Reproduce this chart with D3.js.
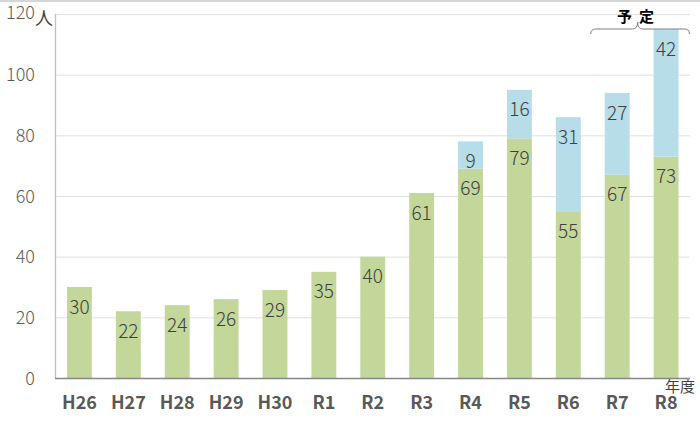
<!DOCTYPE html>
<html><head><meta charset="utf-8">
<script src="https://cdn.jsdelivr.net/npm/d3@7"></script>
<style>body{margin:0;background:#fff}svg{display:block}</style>
</head><body><svg id="c" width="700" height="429"></svg>
<script>
const categories = ["H26","H27","H28","H29","H30","R1","R2","R3","R4","R5","R6","R7","R8"];
const greenValues = [30,22,24,26,29,35,40,61,69,79,55,67,73];
const blueValues  = [0,0,0,0,0,0,0,0,9,16,31,27,42];
const yTicks = [0,20,40,60,80,100,120];

const svg = d3.select("#c");
const W = 700, H = 429;
const font = "'Noto Sans CJK JP','Noto Sans',sans-serif";
const x = d3.scaleBand().domain(categories).range([55, 690.5]).paddingInner(0.49).paddingOuter(0.245);
const y = d3.scaleLinear().domain([0,120]).range([378, 14]);

// top border
svg.append("line").attr("x1",0).attr("x2",W).attr("y1",1).attr("y2",1).attr("stroke","#c8c8c8").attr("stroke-width",1.5);

// gridlines
svg.append("g").selectAll("line").data(yTicks.filter(d=>d>0)).join("line")
  .attr("x1",55).attr("x2",690).attr("y1",d=>y(d)+0.5).attr("y2",d=>y(d)+0.5)
  .attr("stroke","#e0e0e0").attr("stroke-width",1);

// y axis tick labels
const yAxis = d3.axisLeft(y).tickValues(yTicks).tickSize(0).tickPadding(10);
const gy = svg.append("g").attr("transform","translate(45,0)").call(yAxis);
gy.select(".domain").remove();
gy.selectAll("text").attr("font-family",font).attr("font-size",18).attr("font-weight",300).attr("fill","#595959").attr("x",-10).attr("dy","0.35em");
gy.selectAll(".tick").filter(d=>d===120).select("text").attr("dy","0.25em");

// bars
const data = categories.map((c,i)=>({c, g:greenValues[i], b:blueValues[i]}));
svg.append("g").selectAll("rect").data(data).join("rect")
  .attr("x",d=>x(d.c)).attr("width",x.bandwidth())
  .attr("y",d=>y(d.g)).attr("height",d=>y(0)-y(d.g)).attr("fill","#c4d79b");
svg.append("g").selectAll("rect").data(data.filter(d=>d.b>0)).join("rect")
  .attr("x",d=>x(d.c)).attr("width",x.bandwidth())
  .attr("y",d=>y(d.g+d.b)).attr("height",d=>y(d.g)-y(d.g+d.b)).attr("fill","#b7dde8");

// vertical axis line & baseline
svg.append("line").attr("x1",55.5).attr("x2",55.5).attr("y1",14).attr("y2",378).attr("stroke","#bfbfbf").attr("stroke-width",1.3);
svg.append("line").attr("x1",55).attr("x2",690).attr("y1",378.5).attr("y2",378.5).attr("stroke","#868686").attr("stroke-width",1.3);

// value labels
svg.append("g").selectAll("text").data(data).join("text")
  .attr("x",d=>x(d.c)+x.bandwidth()/2).attr("y",d=>y(d.g)+20).attr("dy","0.35em")
  .attr("text-anchor","middle").attr("font-family",font).attr("font-size",19).attr("font-weight",300).attr("fill","#404040")
  .text(d=>d.g);
svg.append("g").selectAll("text").data(data.filter(d=>d.b>0)).join("text")
  .attr("x",d=>x(d.c)+x.bandwidth()/2).attr("y",d=>y(d.g+d.b)+20).attr("dy","0.35em")
  .attr("text-anchor","middle").attr("font-family",font).attr("font-size",19).attr("font-weight",300).attr("fill","#404040")
  .text(d=>d.b);

// x axis labels
const xAxis = d3.axisBottom(x).tickSize(0).tickPadding(0);
const gx = svg.append("g").attr("transform","translate(0,378)").call(xAxis);
gx.select(".domain").remove();
gx.selectAll("text").attr("font-family",font).attr("font-size",18).attr("font-weight",700).attr("fill","#595959").attr("y",25).attr("dy","0.35em");

// unit labels
svg.append("text").attr("x",44).attr("y",19).attr("dy","0.35em").attr("text-anchor","middle")
  .attr("font-family",font).attr("font-size",18).attr("fill","#404040").text("人");
svg.append("text").attr("x",680).attr("y",387).attr("dy","0.35em").attr("text-anchor","middle")
  .attr("font-family",font).attr("font-size",15).attr("fill","#404040").text("年度");

// 予定 brace
const bx0 = x("R7") - 14, bx1 = x("R8") + x.bandwidth() + 11, bm = (x("R7")+x.bandwidth()/2 + x("R8")+x.bandwidth()/2)/2 - 4;
svg.append("path")
  .attr("d",`M${bx0},34 Q${bx0},29 ${bx0+5},29 L${bm-5},29 Q${bm},29 ${bm},22 Q${bm},29 ${bm+5},29 L${bx1-5},29 Q${bx1},29 ${bx1},34`)
  .attr("fill","none").attr("stroke","#7f7f7f").attr("stroke-width",1);
svg.append("text").attr("x",bm-13).attr("y",17).attr("dy","0.35em").attr("text-anchor","middle")
  .attr("font-family",font).attr("font-size",15).attr("font-weight",700).attr("fill","#000").text("予");
svg.append("text").attr("x",bm+9).attr("y",17).attr("dy","0.35em").attr("text-anchor","middle")
  .attr("font-family",font).attr("font-size",15).attr("font-weight",700).attr("fill","#000").text("定");
</script></body></html>
